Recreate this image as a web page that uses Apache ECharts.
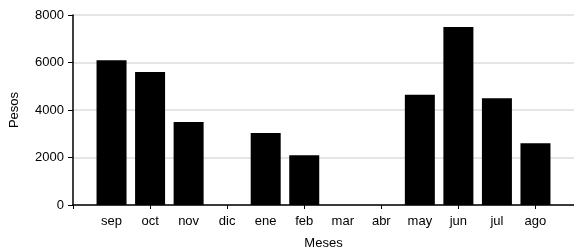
<!DOCTYPE html>
<html>
<head>
<meta charset="utf-8">
<script src="https://cdn.jsdelivr.net/npm/echarts@6/dist/echarts.min.js"></script>
<style>
  html, body { margin: 0; padding: 0; background: #fff; }
  #chart { width: 574px; height: 247px; }
</style>
</head>
<body>
<div id="chart"></div>
<script>
// meses (con hueco al principio y al final del eje)
var meses = ['', 'sep', 'oct', 'nov', 'dic', 'ene', 'feb', 'mar', 'abr', 'may', 'jun', 'jul', 'ago', ''];
// pesos por mes
var pesos = [null, 6100, 5600, 3500, 0, 3030, 2100, 0, 0, 4640, 7500, 4500, 2600, null];
var yTicks = [0, 2000, 4000, 6000, 8000];

var myChart = echarts.init(document.getElementById('chart'));

var font = 'Liberation Sans, Arial, sans-serif';

var option = {
  animation: false,
  grid: { left: 73, right: 0, top: 15, bottom: 42, outerBoundsMode: 'none', containLabel: false },
  xAxis: {
    type: 'category',
    data: meses,
    boundaryGap: false,
    name: 'Meses',
    nameLocation: 'middle',
    nameGap: 32,
    nameTextStyle: { fontFamily: font, fontSize: 13, color: '#000' },
    axisLine: { lineStyle: { color: '#000', width: 1.5 } },
    axisTick: { interval: 1, length: 4, lineStyle: { color: '#000' } },
    axisLabel: { interval: 0, fontFamily: font, fontSize: 13, color: '#000', margin: 10 },
    splitLine: { show: false }
  },
  yAxis: {
    type: 'value',
    min: yTicks[0],
    max: yTicks[yTicks.length - 1],
    interval: 2000,
    name: 'Pesos',
    nameLocation: 'middle',
    nameGap: 52,
    nameTextStyle: { fontFamily: font, fontSize: 13, color: '#000' },
    axisLine: { show: true, lineStyle: { color: '#000', width: 1.5 } },
    axisTick: { show: true, length: 5, lineStyle: { color: '#000' } },
    axisLabel: {
      fontFamily: font, fontSize: 13, color: '#000', margin: 9,
      formatter: function (v) { return String(v); }
    },
    splitLine: { lineStyle: { color: '#dcdcdc', width: 1.5 } }
  },
  series: [{
    type: 'bar',
    data: pesos,
    barWidth: 30,
    itemStyle: { color: '#000' }
  }]
};

myChart.setOption(option);
</script>
</body>
</html>
